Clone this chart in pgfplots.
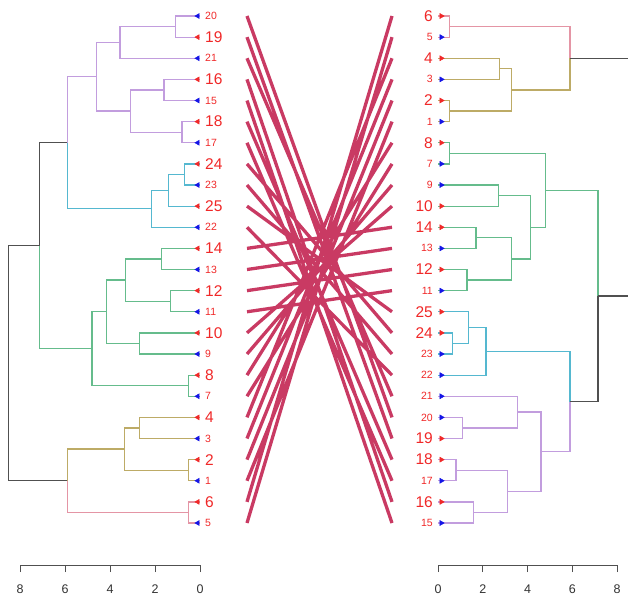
\documentclass[border=0pt]{standalone}
\usepackage{fontspec}
\setmainfont{Liberation Sans}
\usepackage{pgfplots}
\usepackage{pgfplotstable}
\pgfplotsset{compat=1.18}
\definecolor{cpink}{HTML}{E495A5}
\definecolor{colive}{HTML}{BDAB66}
\definecolor{cgreen}{HTML}{65BC8C}
\definecolor{ccyan}{HTML}{55B8D0}
\definecolor{cpurple}{HTML}{C29DDE}
\definecolor{cblack}{HTML}{505050}
\definecolor{clink}{HTML}{C93A63}
\definecolor{labred}{HTML}{F02828}
\definecolor{mkblue}{HTML}{1414E6}
\newcommand\bigfont{\fontsize{15.5bp}{17bp}\selectfont}
\newcommand\smallfont{\fontsize{10.5bp}{12bp}\selectfont}

% leaf positions (1 = top row) and labels
\pgfplotstableread{
pos lab
2 19
4 16
6 18
8 24
10 25
12 14
14 12
16 10
18 8
20 4
22 2
24 6
}\leftbig
\pgfplotstableread{
pos lab
1 20
3 21
5 15
7 17
9 23
11 22
13 13
15 11
17 9
19 7
21 3
23 1
25 5
}\leftsmall
\pgfplotstableread{
pos lab
1 6
3 4
5 2
7 8
10 10
11 14
13 12
15 25
16 24
21 19
22 18
24 16
}\rightbig
\pgfplotstableread{
pos lab
2 5
4 3
6 1
8 7
9 9
12 13
14 11
17 23
18 22
19 21
20 20
23 17
25 15
}\rightsmall

\pgfplotsset{
  tree/.style={scale only axis, clip=false, axis lines=none,
    xmin=0, xmax=8, ymin=1, ymax=25, y dir=reverse,
    width=180bp, height=507bp, unbounded coords=jump},
  br/.style={line width=1.25bp, no markers},
  scalebar/.style={scale only axis, clip=false, width=180bp, height=1bp,
    xmin=0, xmax=8, ymin=0, ymax=1, axis x line=bottom, axis y line=none,
    axis line style={-, cblack, line width=0.9bp},
    xtick={0,2,4,6,8}, ytick=\empty, tick align=outside,
    major tick length=7bp, tick style={cblack, line width=0.9bp},
    /pgf/number format/assume math mode=true,
    xticklabel style={font=\fontsize{12.5bp}{14bp}\selectfont, text=black!80, yshift=-9bp}},
  leftlab/.style={draw=none, mark=none, nodes near coords, point meta=explicit symbolic,
    every node near coord/.append style={anchor=west, inner sep=0pt, xshift=5bp, text=labred}},
  rightlab/.style={draw=none, mark=none, nodes near coords, point meta=explicit symbolic,
    every node near coord/.append style={anchor=east, inner sep=0pt, xshift=-5bp, text=labred}},
}

\begin{document}
\begin{tikzpicture}
\useasboundingbox (0,0) rectangle (628bp,-601bp);

% ---------------- left dendrogram ----------------
\begin{axis}[tree, x dir=reverse, at={(110bp,-269.5bp)}, anchor=center]
\addplot[br, cpurple] coordinates {
(0,1)(1.1,1)(1.1,2)(0,2) (nan,nan)
(1.1,1.5)(3.55,1.5)(3.55,3)(0,3) (nan,nan)
(0,4)(1.6,4)(1.6,5)(0,5) (nan,nan)
(0,6)(0.8,6)(0.8,7)(0,7) (nan,nan)
(1.6,4.5)(3.1,4.5)(3.1,6.5)(0.8,6.5) (nan,nan)
(3.55,2.25)(4.6,2.25)(4.6,5.5)(3.1,5.5) (nan,nan)
(5.9,7)(5.9,3.875)(4.6,3.875)};
\addplot[br, ccyan] coordinates {
(0,8)(0.7,8)(0.7,9)(0,9) (nan,nan)
(0.7,8.5)(1.4,8.5)(1.4,10)(0,10) (nan,nan)
(1.4,9.25)(2.15,9.25)(2.15,11)(0,11) (nan,nan)
(5.9,7)(5.9,10.125)(2.15,10.125)};
\addplot[br, cgreen] coordinates {
(7.15,11.875)(7.15,16.75)(4.8,16.75) (nan,nan)
(0,12)(1.7,12)(1.7,13)(0,13) (nan,nan)
(0,14)(1.3,14)(1.3,15)(0,15) (nan,nan)
(1.7,12.5)(3.3,12.5)(3.3,14.5)(1.3,14.5) (nan,nan)
(0,16)(2.7,16)(2.7,17)(0,17) (nan,nan)
(3.3,13.5)(4.15,13.5)(4.15,16.5)(2.7,16.5) (nan,nan)
(0,18)(0.5,18)(0.5,19)(0,19) (nan,nan)
(4.15,15)(4.8,15)(4.8,18.5)(0.5,18.5)};
\addplot[br, colive] coordinates {
(0,20)(2.7,20)(2.7,21)(0,21) (nan,nan)
(0,22)(0.5,22)(0.5,23)(0,23) (nan,nan)
(2.7,20.5)(3.35,20.5)(3.35,22.5)(0.5,22.5) (nan,nan)
(5.9,23)(5.9,21.5)(3.35,21.5)};
\addplot[br, cpink] coordinates {
(0,24)(0.5,24)(0.5,25)(0,25) (nan,nan)
(5.9,23)(5.9,24.5)(0.5,24.5)};
\addplot[br, cblack] coordinates {
(7.15,11.875)(7.15,7)(5.9,7) (nan,nan)
(7.15,11.875)(8.5,11.875)(8.5,23)(5.9,23)};
% leaf marks
\addplot[only marks, mark=triangle*, mark size=2.9bp, mark options={rotate=90, fill=labred, draw=labred}]
  table[x expr=0.1, y=pos] {\leftbig};
\addplot[only marks, mark=triangle*, mark size=2.9bp, mark options={rotate=90, fill=mkblue, draw=mkblue}]
  table[x expr=0.1, y=pos] {\leftsmall};
% leaf labels
\addplot[leftlab, every node near coord/.append style={font=\bigfont}]
  table[x expr=0, y=pos, meta=lab] {\leftbig};
\addplot[leftlab, every node near coord/.append style={font=\smallfont}]
  table[x expr=0, y=pos, meta=lab] {\leftsmall};
\end{axis}

% ---------------- connecting lines ----------------
\begin{axis}[scale only axis, clip=false, axis lines=none, xmin=0, xmax=1,
  ymin=1, ymax=25, y dir=reverse, width=145bp, height=507bp,
  unbounded coords=jump, at={(319.5bp,-269.5bp)}, anchor=center]
\addplot[clink, line width=3.3bp, no markers] coordinates {
(0,1)(1,20) (nan,nan) (0,2)(1,21) (nan,nan) (0,3)(1,19) (nan,nan)
(0,4)(1,24) (nan,nan) (0,5)(1,25) (nan,nan) (0,6)(1,22) (nan,nan)
(0,7)(1,23) (nan,nan) (0,8)(1,16) (nan,nan) (0,9)(1,17) (nan,nan)
(0,10)(1,15) (nan,nan) (0,11)(1,18) (nan,nan) (0,12)(1,11) (nan,nan)
(0,13)(1,12) (nan,nan) (0,14)(1,13) (nan,nan) (0,15)(1,14) (nan,nan)
(0,16)(1,10) (nan,nan) (0,17)(1,9) (nan,nan) (0,18)(1,7) (nan,nan)
(0,19)(1,8) (nan,nan) (0,20)(1,3) (nan,nan) (0,21)(1,4) (nan,nan)
(0,22)(1,5) (nan,nan) (0,23)(1,6) (nan,nan) (0,24)(1,1) (nan,nan)
(0,25)(1,2)};
\end{axis}

% ---------------- right dendrogram ----------------
\begin{axis}[tree, width=179bp, at={(527.5bp,-269.5bp)}, anchor=center]
\addplot[br, cpink] coordinates {
(0,1)(0.5,1)(0.5,2)(0,2) (nan,nan)
(5.9,3)(5.9,1.5)(0.5,1.5)};
\addplot[br, colive] coordinates {
(0,3)(2.75,3)(2.75,4)(0,4) (nan,nan)
(0,5)(0.5,5)(0.5,6)(0,6) (nan,nan)
(2.75,3.5)(3.3,3.5)(3.3,5.5)(0.5,5.5) (nan,nan)
(5.9,3)(5.9,4.5)(3.3,4.5)};
\addplot[br, cgreen] coordinates {
(7.15,14.25)(7.15,9.25)(4.8,9.25) (nan,nan)
(0,7)(0.5,7)(0.5,8)(0,8) (nan,nan)
(0,9)(2.7,9)(2.7,10)(0,10) (nan,nan)
(0,11)(1.7,11)(1.7,12)(0,12) (nan,nan)
(0,13)(1.3,13)(1.3,14)(0,14) (nan,nan)
(1.7,11.5)(3.3,11.5)(3.3,13.5)(1.3,13.5) (nan,nan)
(2.7,9.5)(4.15,9.5)(4.15,12.5)(3.3,12.5) (nan,nan)
(0.5,7.5)(4.8,7.5)(4.8,11)(4.15,11)};
\addplot[br, ccyan] coordinates {
(0,16)(0.65,16)(0.65,17)(0,17) (nan,nan)
(0,15)(1.35,15)(1.35,16.5)(0.65,16.5) (nan,nan)
(1.35,15.75)(2.15,15.75)(2.15,18)(0,18) (nan,nan)
(5.9,19.25)(5.9,16.875)(2.15,16.875)};
\addplot[br, cpurple] coordinates {
(0,20)(1.1,20)(1.1,21)(0,21) (nan,nan)
(0,19)(3.55,19)(3.55,20.5)(1.1,20.5) (nan,nan)
(0,22)(0.8,22)(0.8,23)(0,23) (nan,nan)
(0,24)(1.6,24)(1.6,25)(0,25) (nan,nan)
(0.8,22.5)(3.1,22.5)(3.1,24.5)(1.6,24.5) (nan,nan)
(3.55,19.75)(4.6,19.75)(4.6,23.5)(3.1,23.5) (nan,nan)
(5.9,19.25)(5.9,21.625)(4.6,21.625)};
\addplot[br, cblack] coordinates {
(5.9,3)(8.5,3)(8.5,14.25)(7.15,14.25) (nan,nan)
(7.15,14.25)(7.15,19.25)(5.9,19.25)};
\addplot[only marks, mark=triangle*, mark size=2.9bp, mark options={rotate=-90, fill=labred, draw=labred}]
  table[x expr=0.15, y=pos] {\rightbig};
\addplot[only marks, mark=triangle*, mark size=2.9bp, mark options={rotate=-90, fill=mkblue, draw=mkblue}]
  table[x expr=0.15, y=pos] {\rightsmall};
\addplot[rightlab, every node near coord/.append style={font=\bigfont}]
  table[x expr=0, y=pos, meta=lab] {\rightbig};
\addplot[rightlab, every node near coord/.append style={font=\smallfont}]
  table[x expr=0, y=pos, meta=lab] {\rightsmall};
\end{axis}

% ---------------- scale bars ----------------
\begin{axis}[scalebar, x dir=reverse, at={(110bp,-565bp)}, anchor=south]
\end{axis}
\begin{axis}[scalebar, width=179bp, at={(527.5bp,-565bp)}, anchor=south]
\end{axis}
\end{tikzpicture}
\end{document}
